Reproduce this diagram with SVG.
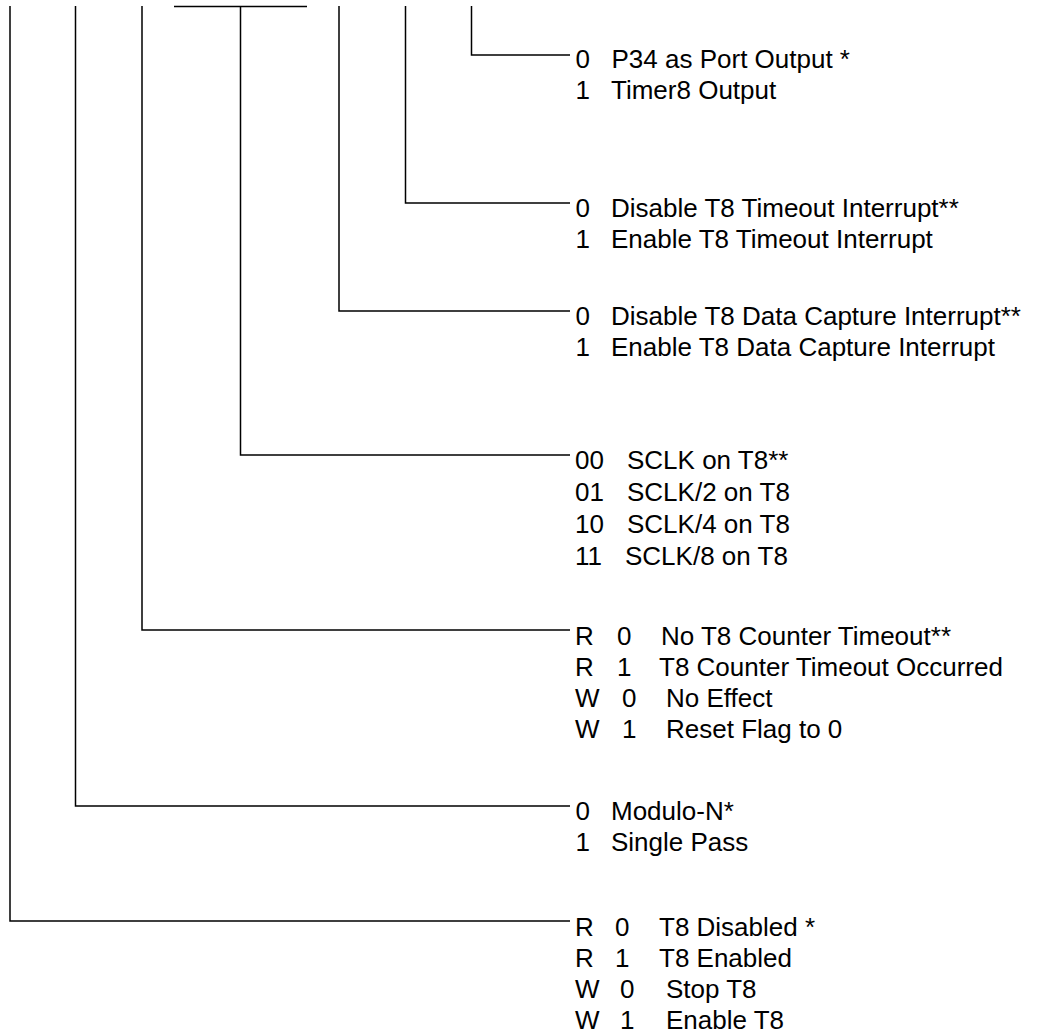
<svg xmlns="http://www.w3.org/2000/svg" width="1043" height="1033" viewBox="0 0 1043 1033">
<style>
.c{fill:none;stroke:#000;stroke-width:1.5}
text{font-family:"Liberation Sans",Arial,sans-serif;font-size:26px;fill:#000}
</style>
<rect width="1043" height="1033" fill="#fff"/>
<g id="connectors" class="c">
<path d="M471.5 6V55H570"/>
<path d="M405.5 6V203H570"/>
<path d="M339 6V311H570"/>
<path d="M174 6.5H307M240.5 6.5V455H570"/>
<path d="M142 6V630H570"/>
<path d="M75.5 6V806H570"/>
<path d="M10 6V921H570"/>
</g>
<g id="bit-p34">
<text x="575.5" y="68">0</text><text x="611.5" y="68">P34 as Port Output *</text>
<text x="575.5" y="99">1</text><text x="611" y="99">Timer8 Output</text>
</g>
<g id="bit-timeout-int">
<text x="575.5" y="217">0</text><text x="611" y="217">Disable T8 Timeout Interrupt**</text>
<text x="575.5" y="248">1</text><text x="611" y="248">Enable T8 Timeout Interrupt</text>
</g>
<g id="bit-capture-int">
<text x="575.5" y="325">0</text><text x="611" y="325">Disable T8 Data Capture Interrupt**</text>
<text x="575.5" y="356">1</text><text x="611" y="356">Enable T8 Data Capture Interrupt</text>
</g>
<g id="bits-clock">
<text x="575" y="469">00</text><text x="627" y="469">SCLK on T8**</text>
<text x="575" y="501">01</text><text x="627" y="501">SCLK/2 on T8</text>
<text x="575" y="533">10</text><text x="627" y="533">SCLK/4 on T8</text>
<text x="575" y="565">11</text><text x="625" y="565">SCLK/8 on T8</text>
</g>
<g id="bit-counter-timeout">
<text x="575" y="645">R</text><text x="617" y="645">0</text><text x="661" y="645">No T8 Counter Timeout**</text>
<text x="575" y="676">R</text><text x="617" y="676">1</text><text x="659" y="676">T8 Counter Timeout Occurred</text>
<text x="575" y="707">W</text><text x="622" y="707">0</text><text x="666" y="707">No Effect</text>
<text x="575" y="738">W</text><text x="622" y="738">1</text><text x="666" y="738">Reset Flag to 0</text>
</g>
<g id="bit-mode">
<text x="575.5" y="820">0</text><text x="611" y="820">Modulo-N*</text>
<text x="575.5" y="851">1</text><text x="611" y="851">Single Pass</text>
</g>
<g id="bit-enable">
<text x="575" y="936">R</text><text x="615" y="936">0</text><text x="659" y="936">T8 Disabled *</text>
<text x="575" y="967">R</text><text x="615" y="967">1</text><text x="659" y="967">T8 Enabled</text>
<text x="575" y="998">W</text><text x="620" y="998">0</text><text x="666" y="998">Stop T8</text>
<text x="575" y="1029">W</text><text x="620" y="1029">1</text><text x="666" y="1029">Enable T8</text>
</g>
</svg>
